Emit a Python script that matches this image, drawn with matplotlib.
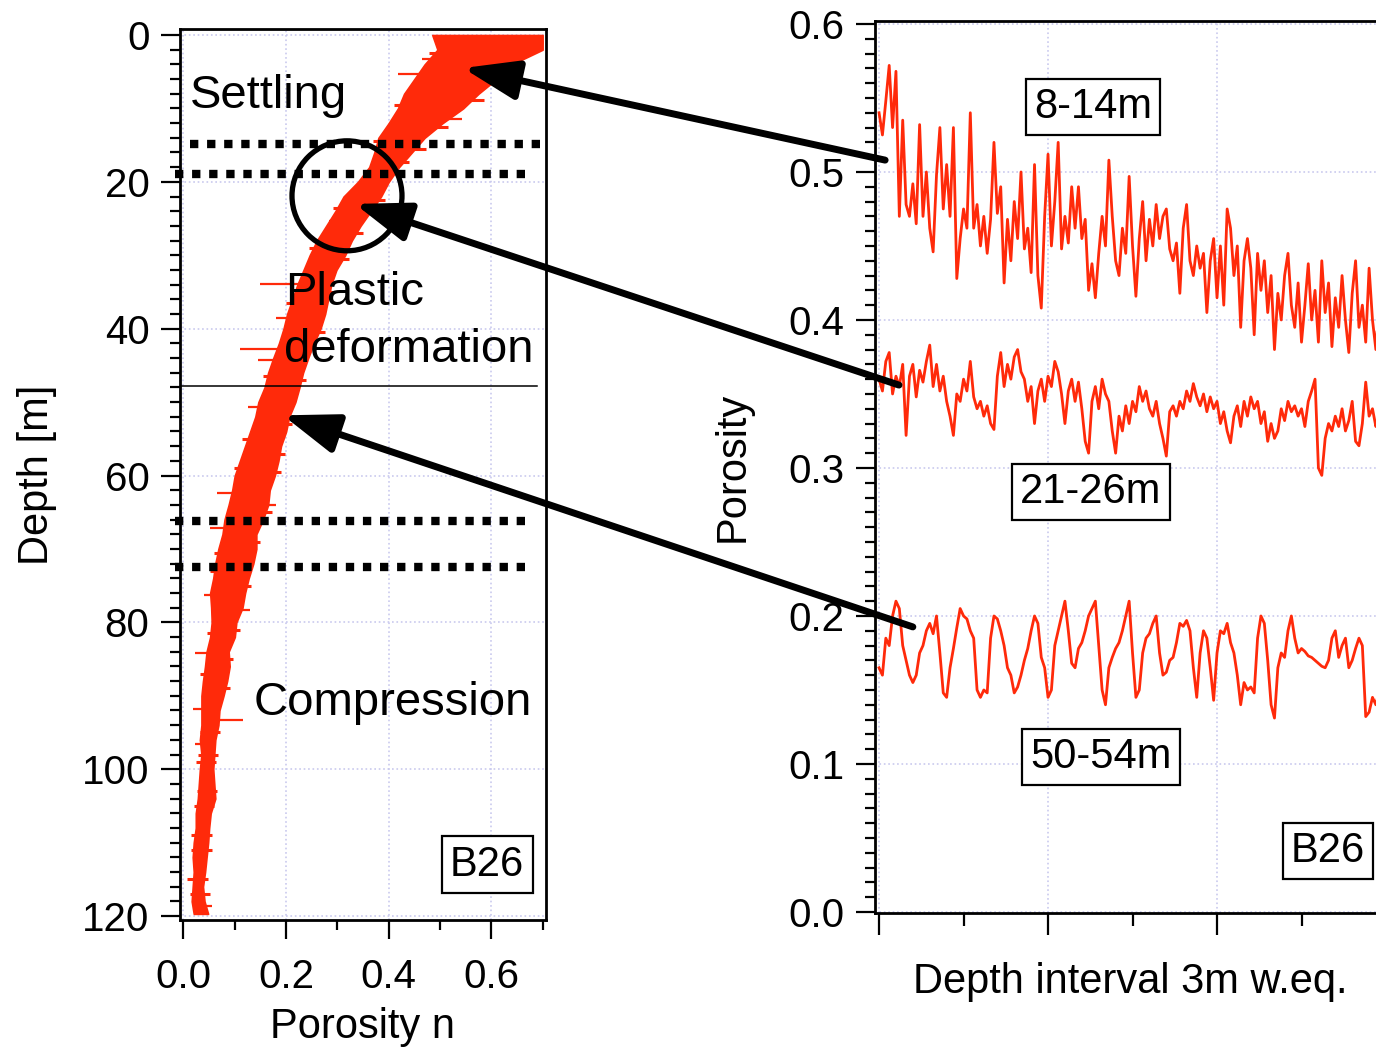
import matplotlib
matplotlib.use('Agg')
import matplotlib.pyplot as plt
from matplotlib.patches import Ellipse
from matplotlib.ticker import MultipleLocator, FormatStrFormatter
import numpy as np

plt.rcParams['font.family'] = ['Liberation Sans', 'DejaVu Sans']

RED = '#ff2a0a'
GRID = '#c9c9ee'

# ---------------- left panel: porosity profile B26 ----------------
depth = [0, 2, 4, 6, 8, 10, 12, 14, 16, 18, 20, 22, 24, 26, 28, 30, 32, 34, 36, 38,
         40, 42, 44, 46, 48, 50, 52, 54, 56, 58, 60, 62, 64, 66, 68, 70, 72, 74, 76, 78,
         80, 82, 84, 86, 88, 90, 92, 94, 96, 98, 100, 102, 104, 106, 108, 110, 112, 114,
         116, 118, 119.7]
por_lo = [0.485, 0.495, 0.470, 0.450, 0.430, 0.418, 0.400, 0.380, 0.372, 0.362,
          0.340, 0.312, 0.296, 0.278, 0.260, 0.246, 0.234, 0.222, 0.212, 0.202,
          0.195, 0.186, 0.175, 0.165, 0.158, 0.146, 0.140, 0.130, 0.120, 0.110,
          0.100, 0.095, 0.088, 0.080, 0.076, 0.068, 0.062, 0.058, 0.052, 0.054,
          0.055, 0.052, 0.045, 0.042, 0.038, 0.035, 0.035, 0.035, 0.032, 0.035,
          0.032, 0.030, 0.028, 0.024, 0.024, 0.020, 0.018, 0.020, 0.018, 0.016, 0.020]
por_hi = [0.700, 0.700, 0.640, 0.610, 0.575, 0.545, 0.505, 0.470, 0.445, 0.420,
          0.400, 0.385, 0.365, 0.345, 0.328, 0.315, 0.298, 0.288, 0.282, 0.276,
          0.267, 0.254, 0.243, 0.233, 0.226, 0.218, 0.206, 0.200, 0.190, 0.185,
          0.178, 0.168, 0.165, 0.155, 0.142, 0.142, 0.136, 0.127, 0.120, 0.115,
          0.103, 0.100, 0.088, 0.090, 0.085, 0.078, 0.070, 0.068, 0.062, 0.060,
          0.058, 0.060, 0.062, 0.053, 0.050, 0.048, 0.045, 0.042, 0.038, 0.041, 0.048]
# isolated spikes sticking out of the band: (depth, porosity from, porosity to)
spike_d = [3.2, 5.3, 11.5, 25.3, 33.9, 38.6, 42.8, 44.2, 50.7, 62.4, 64.0, 67.2,
           76.3, 78.3, 84.2, 91.8, 93.3, 96.5, 118.6]
spike_a = [0.465, 0.418, 0.470, 0.284, 0.149, 0.180, 0.110, 0.145, 0.125, 0.065,
           0.130, 0.052, 0.040, 0.080, 0.022, 0.019, 0.050, 0.022, 0.025]
spike_b = [0.560, 0.520, 0.543, 0.340, 0.260, 0.250, 0.230, 0.220, 0.200, 0.140,
           0.180, 0.120, 0.100, 0.130, 0.070, 0.060, 0.116, 0.050, 0.055]
# small bumps on the right / left edge of the band: (depth, outer porosity)
bump_r_d = [1.0, 6.5, 8.8, 12.5, 15.5, 17.3, 22.5, 27.0, 30.5, 35.0, 40.5, 47.0,
            53.0, 57.0, 59.5, 65.0, 69.0, 75.0, 81.0, 85.0, 89.0, 95.0, 99.0, 103.0,
            109.0, 115.0]
bump_r_x = [0.700, 0.625, 0.585, 0.515, 0.472, 0.440, 0.392, 0.350, 0.322, 0.292,
            0.275, 0.238, 0.212, 0.198, 0.190, 0.172, 0.150, 0.131, 0.110, 0.097,
            0.090, 0.072, 0.064, 0.066, 0.055, 0.047]
bump_l_d = [2.5, 9.5, 14.5, 19.5, 23.5, 29.0, 36.5, 46.5, 55.0, 59.0, 70.5, 73.0,
            81.5, 87.0, 98.0, 105.0, 111.0, 117.0]
bump_l_x = [0.478, 0.410, 0.370, 0.348, 0.292, 0.244, 0.200, 0.155, 0.115, 0.098,
            0.060, 0.052, 0.045, 0.033, 0.028, 0.020, 0.015, 0.012]

# ---------------- right panel: 3 m windows ----------------
x_win = np.round(np.arange(0, 3.001, 0.02), 2)
s_8_14 = [0.540, 0.525, 0.548, 0.572, 0.530, 0.568, 0.470, 0.535, 0.478, 0.470,
          0.492, 0.465, 0.532, 0.470, 0.500, 0.462, 0.446, 0.498, 0.530, 0.475,
          0.505, 0.470, 0.530, 0.428, 0.455, 0.475, 0.462, 0.540, 0.462, 0.478,
          0.450, 0.470, 0.445, 0.468, 0.520, 0.472, 0.490, 0.425, 0.468, 0.440,
          0.480, 0.455, 0.500, 0.448, 0.462, 0.432, 0.505, 0.430, 0.408, 0.470,
          0.512, 0.450, 0.480, 0.520, 0.448, 0.470, 0.452, 0.490, 0.462, 0.490,
          0.455, 0.468, 0.420, 0.438, 0.415, 0.445, 0.470, 0.450, 0.508, 0.470,
          0.440, 0.430, 0.462, 0.445, 0.497, 0.450, 0.416, 0.455, 0.480, 0.440,
          0.468, 0.450, 0.478, 0.455, 0.470, 0.475, 0.448, 0.440, 0.452, 0.418,
          0.462, 0.478, 0.440, 0.430, 0.450, 0.435, 0.445, 0.405, 0.440, 0.455,
          0.415, 0.450, 0.410, 0.475, 0.462, 0.430, 0.450, 0.395, 0.440, 0.455,
          0.435, 0.390, 0.445, 0.420, 0.440, 0.405, 0.430, 0.380, 0.418, 0.400,
          0.430, 0.445, 0.410, 0.395, 0.425, 0.385, 0.410, 0.438, 0.400, 0.420,
          0.385, 0.440, 0.405, 0.425, 0.382, 0.415, 0.395, 0.430, 0.400, 0.378,
          0.418, 0.440, 0.395, 0.410, 0.385, 0.435, 0.400, 0.380, 0.415, 0.400, 0.410]
s_21_26 = [0.360, 0.352, 0.372, 0.378, 0.350, 0.362, 0.355, 0.370, 0.322, 0.362,
           0.370, 0.348, 0.366, 0.358, 0.372, 0.383, 0.355, 0.370, 0.352, 0.362,
           0.345, 0.335, 0.322, 0.350, 0.345, 0.360, 0.352, 0.372, 0.348, 0.340,
           0.345, 0.335, 0.342, 0.330, 0.326, 0.362, 0.378, 0.355, 0.370, 0.360,
           0.375, 0.380, 0.365, 0.360, 0.345, 0.355, 0.330, 0.352, 0.360, 0.345,
           0.362, 0.355, 0.372, 0.365, 0.350, 0.330, 0.352, 0.360, 0.345, 0.358,
           0.340, 0.318, 0.310, 0.345, 0.355, 0.340, 0.360, 0.350, 0.345, 0.325,
           0.310, 0.335, 0.325, 0.342, 0.330, 0.345, 0.338, 0.355, 0.345, 0.352,
           0.340, 0.335, 0.345, 0.330, 0.320, 0.308, 0.338, 0.342, 0.335, 0.345,
           0.340, 0.352, 0.345, 0.357, 0.348, 0.342, 0.350, 0.338, 0.348, 0.340,
           0.345, 0.330, 0.338, 0.325, 0.317, 0.335, 0.342, 0.328, 0.345, 0.335,
           0.348, 0.340, 0.345, 0.330, 0.338, 0.318, 0.330, 0.320, 0.325, 0.340,
           0.332, 0.345, 0.338, 0.342, 0.335, 0.340, 0.328, 0.345, 0.352, 0.360,
           0.300, 0.295, 0.320, 0.330, 0.325, 0.335, 0.328, 0.340, 0.325, 0.332,
           0.345, 0.318, 0.315, 0.330, 0.358, 0.335, 0.340, 0.328, 0.338, 0.332, 0.335]
s_50_54 = [0.165, 0.160, 0.185, 0.180, 0.200, 0.210, 0.205, 0.180, 0.170, 0.160,
           0.155, 0.160, 0.175, 0.180, 0.190, 0.195, 0.188, 0.200, 0.175, 0.148,
           0.145, 0.165, 0.178, 0.192, 0.205, 0.200, 0.198, 0.190, 0.185, 0.150,
           0.145, 0.150, 0.148, 0.185, 0.200, 0.198, 0.190, 0.180, 0.165, 0.160,
           0.148, 0.152, 0.160, 0.170, 0.178, 0.190, 0.200, 0.195, 0.172, 0.165,
           0.145, 0.150, 0.180, 0.190, 0.200, 0.210, 0.190, 0.168, 0.165, 0.178,
           0.182, 0.190, 0.200, 0.205, 0.210, 0.180, 0.150, 0.140, 0.165, 0.172,
           0.178, 0.182, 0.190, 0.200, 0.210, 0.175, 0.145, 0.150, 0.175, 0.185,
           0.188, 0.195, 0.200, 0.175, 0.160, 0.162, 0.170, 0.172, 0.182, 0.195,
           0.193, 0.197, 0.190, 0.165, 0.145, 0.175, 0.190, 0.185, 0.165, 0.143,
           0.175, 0.190, 0.188, 0.195, 0.182, 0.175, 0.160, 0.140, 0.155, 0.150,
           0.152, 0.148, 0.185, 0.200, 0.195, 0.170, 0.140, 0.131, 0.165, 0.175,
           0.172, 0.190, 0.200, 0.185, 0.175, 0.178, 0.176, 0.173, 0.172, 0.170,
           0.168, 0.166, 0.165, 0.170, 0.185, 0.190, 0.172, 0.180, 0.185, 0.165,
           0.170, 0.178, 0.185, 0.180, 0.132, 0.135, 0.145, 0.140, 0.150, 0.160, 0.165]

# section boundaries (depth, m)
dotted_d = [14.85, 18.9, 66.2, 72.5]
dotted_x0 = [0.0127, -0.0166, -0.0166, -0.0166]
dotted_x1 = [0.709, 0.679, 0.679, 0.679]
solid_d = 47.8

W, H = 1376, 1051
fig = plt.figure(figsize=(W / 100, H / 100), dpi=100)

def style(ax):
    for s in ax.spines.values():
        s.set_linewidth(2)
    ax.tick_params(which='both', direction='out', width=1.6, labelsize=29, color='k')
    ax.tick_params(which='major', length=14)
    ax.tick_params(which='minor', length=7)

# ----- left axes -----
ax1 = fig.add_axes([180 / W, 131 / H, 366 / W, 891 / H])
ax1.fill_betweenx(depth, por_lo, por_hi, color=RED, lw=1.2, zorder=3)
ax1.hlines(spike_d, spike_a, spike_b, color=RED, lw=1.6, zorder=3)
bump_r_x = np.array(bump_r_x)
bump_l_x = np.array(bump_l_x)
ax1.hlines(bump_r_d, bump_r_x - 0.04, bump_r_x, color=RED, lw=2.2, zorder=3)
ax1.hlines(bump_l_d, bump_l_x, bump_l_x + 0.04, color=RED, lw=2.2, zorder=3)
ax1.set_xlim(-0.0068, 0.7066)
ax1.set_ylim(120.54, -0.82)
ax1.xaxis.set_major_locator(MultipleLocator(0.2))
ax1.xaxis.set_minor_locator(MultipleLocator(0.1))
ax1.yaxis.set_major_locator(MultipleLocator(20))
ax1.yaxis.set_minor_locator(MultipleLocator(2))
ax1.set_xticks([0.0, 0.2, 0.4, 0.6])
ax1.set_xticklabels(['0.0', '0.2', '0.4', '0.6'])
ax1.grid(True, which='major', color=GRID, ls=':', lw=1.2, zorder=0)
style(ax1)
ax1.tick_params(axis='x', pad=13)
ax1.tick_params(axis='y', pad=8)
ax1.set_xlabel('Porosity n', fontsize=30, labelpad=8)
ax1.set_ylabel('Depth [m]', fontsize=30, labelpad=18)

for d, a, b in zip(dotted_d, dotted_x0, dotted_x1):
    ax1.plot([a, b], [d, d], color='k', lw=6, ls=(0, (1, 1.05)),
             solid_capstyle='butt', dash_capstyle='butt', clip_on=False, zorder=5)
ax1.plot([-0.0068, 0.689], [solid_d, solid_d], color='k', lw=1.1, zorder=5)

ax1.add_patch(Ellipse((0.3187, 21.9), 0.2144, 14.98, fill=False, ec='k', lw=3.8,
                      zorder=6, clip_on=False))

ax1.text(0.0127, 9.9, 'Settling', fontsize=34, va='baseline', ha='left', zorder=7)
ax1.text(0.198, 36.8, 'Plastic', fontsize=34, va='baseline', ha='left', zorder=7)
ax1.text(0.196, 44.5, 'deformation', fontsize=34, va='baseline', ha='left', zorder=7)
ax1.text(0.137, 92.6, 'Compression', fontsize=34, va='baseline', ha='left', zorder=7)
box = dict(boxstyle='square,pad=0.2', fc='white', ec='k', lw=1.6)
ax1.text(0.592, 113.0, 'B26', fontsize=30, ha='center', va='center', bbox=box, zorder=7)

# ----- right axes -----
ax2 = fig.add_axes([875 / W, 138 / H, 511 / W, 892 / H])
ax2.plot(x_win, s_8_14, color=RED, lw=2)
ax2.plot(x_win, s_21_26, color=RED, lw=2)
ax2.plot(x_win, s_50_54, color=RED, lw=2)
ax2.set_xlim(-0.024, 3.0)
ax2.set_ylim(-0.0007, 0.602)
ax2.xaxis.set_major_locator(MultipleLocator(1))
ax2.xaxis.set_minor_locator(MultipleLocator(0.5))
ax2.yaxis.set_major_locator(MultipleLocator(0.1))
ax2.yaxis.set_minor_locator(MultipleLocator(0.01))
ax2.set_xticklabels([])
ax2.yaxis.set_major_formatter(FormatStrFormatter('%.1f'))
ax2.grid(True, which='major', color=GRID, ls=':', lw=1.2, zorder=0)
style(ax2)
ax2.tick_params(axis='x', which='major', length=16)
ax2.tick_params(axis='x', which='minor', length=9)
ax2.tick_params(axis='y', pad=8)
ax2.spines['right'].set_visible(False)
ax2.set_xlabel('Depth interval 3m w.eq.', fontsize=30, labelpad=16)
ax2.set_ylabel('Porosity', fontsize=30, labelpad=26)

ax2.text(1.266, 0.544, '8-14m', fontsize=30, ha='center', va='center', bbox=box, zorder=7)
ax2.text(1.254, 0.2838, '21-26m', fontsize=30, ha='center', va='center', bbox=box, zorder=7)
ax2.text(1.314, 0.1047, '50-54m', fontsize=30, ha='center', va='center', bbox=box, zorder=7)
ax2.text(2.657, 0.0412, 'B26', fontsize=30, ha='center', va='center', bbox=box, zorder=7)

# arrows from the windows back to the profile (drawn by ax2 so they sit on top)
tips = [(0.545, 4.5), (0.334, 23.0), (0.194, 51.8)]
tails = [(0.036, 0.508), (0.118, 0.356), (0.20, 0.1926)]
for tip, tail in zip(tips, tails):
    a = ax2.annotate('', xy=tip, xycoords=ax1.transData,
                     xytext=tail, textcoords='data',
                     arrowprops=dict(arrowstyle='-|>,head_length=2.8,head_width=1.0',
                                     mutation_scale=12, lw=5, color='k',
                                     shrinkA=0, shrinkB=0),
                     annotation_clip=False, zorder=8)
    a.arrow_patch.set_clip_on(False)

fig.savefig('out.png', dpi=100)
